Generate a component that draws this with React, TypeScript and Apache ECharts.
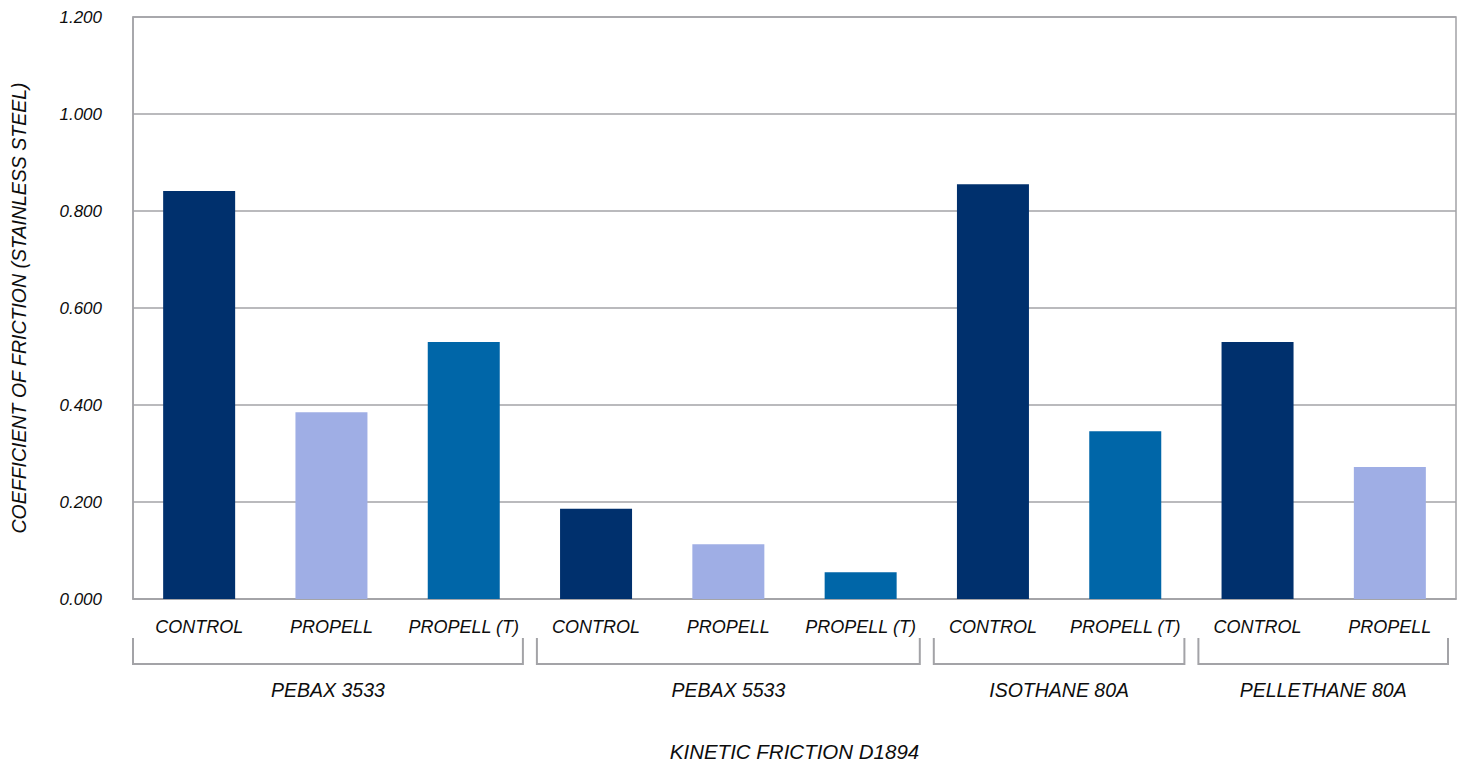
import React, { useEffect, useRef } from "react";
import * as echarts from "echarts";

const categories = [
  "CONTROL", "PROPELL", "PROPELL (T)",
  "CONTROL", "PROPELL", "PROPELL (T)",
  "CONTROL", "PROPELL (T)",
  "CONTROL", "PROPELL",
];
const values = [0.841, 0.385, 0.53, 0.186, 0.113, 0.055, 0.855, 0.346, 0.53, 0.272];
const groups = ["PEBAX 3533", "PEBAX 5533", "ISOTHANE 80A", "PELLETHANE 80A"];
const groupSizes = [3, 3, 2, 2];
const yMin = 0;
const yMax = 1.2;
const yStep = 0.2;
const xTitle = "KINETIC FRICTION D1894";
const yTitle = "COEFFICIENT OF FRICTION (STAINLESS STEEL)";

const typeColors: Record<string, string> = {
  "CONTROL": "#00306d",
  "PROPELL": "#9faee5",
  "PROPELL (T)": "#0066a8",
};

const FONT = "'Liberation Sans Narrow', 'Liberation Sans', Arial, sans-serif";
const GRAY = "#a3a3a7";
const TEXT = "#0d0d0d";

export default function App() {
  const ref = useRef<HTMLDivElement>(null);
  useEffect(() => {
    if (!ref.current) return;
    const chart = echarts.init(ref.current, null, { renderer: "svg" });
    chart.setOption({
      animation: false,
      backgroundColor: "#ffffff",
      grid: {
        left: 133,
        right: 7,
        top: 17,
        bottom: 163,
        show: true,
        borderColor: GRAY,
        borderWidth: 1.5,
        containLabel: false,
        outerBoundsMode: "none",
      },
      xAxis: {
        type: "category",
        data: categories,
        axisLine: { show: true, lineStyle: { color: GRAY, width: 1.5 } },
        axisTick: { show: false },
        axisLabel: {
          interval: 0,
          margin: 19,
          color: TEXT,
          fontFamily: FONT,
          fontStyle: "italic",
          fontSize: 18,
        },
        name: xTitle,
        nameLocation: "middle",
        nameGap: 142,
        nameTextStyle: {
          color: TEXT,
          fontFamily: FONT,
          fontStyle: "italic",
          fontSize: 20.5,
        },
      },
      yAxis: {
        type: "value",
        min: yMin,
        max: yMax,
        interval: yStep,
        axisLine: { show: true, lineStyle: { color: GRAY, width: 1.5 } },
        axisTick: { show: false },
        splitLine: { show: true, lineStyle: { color: GRAY, width: 1.5 } },
        axisLabel: {
          margin: 31,
          color: TEXT,
          fontFamily: FONT,
          fontStyle: "italic",
          fontSize: 17,
          formatter: (v: number) => v.toFixed(3),
        },
        name: yTitle,
        nameLocation: "middle",
        nameGap: 104,
        nameTextStyle: {
          color: TEXT,
          fontFamily: FONT,
          fontStyle: "italic",
          fontSize: 19.5,
        },
      },
      series: [
        {
          type: "bar",
          barWidth: 72,
          data: values.map((v, i) => ({
            value: v,
            itemStyle: { color: typeColors[categories[i]] },
          })),
        },
      ],
    });

    // group brackets and group labels, positioned from the category axis
    const c0 = chart.convertToPixel({ xAxisIndex: 0 }, 0) as number;
    const c1 = chart.convertToPixel({ xAxisIndex: 0 }, 1) as number;
    const band = c1 - c0;
    const graphics: any[] = [];
    let start = 0;
    groupSizes.forEach((size, gi) => {
      const left = c0 - band / 2 + start * band + (gi === 0 ? 0 : 7);
      const right =
        c0 - band / 2 + (start + size) * band - (gi === groupSizes.length - 1 ? 8 : 7);
      graphics.push({
        type: "polyline",
        shape: {
          points: [
            [left, 638],
            [left, 664],
            [right, 664],
            [right, 638],
          ],
        },
        style: { stroke: GRAY, lineWidth: 2, fill: null },
      });
      graphics.push({
        type: "text",
        x: (left + right) / 2,
        y: 690,
        style: {
          text: groups[gi],
          fill: TEXT,
          font: `italic 19.5px ${FONT}`,
          align: "center",
          verticalAlign: "middle",
        },
      });
      start += size;
    });
    chart.setOption({ graphic: graphics });

    return () => chart.dispose();
  }, []);
  return (
    <div
      ref={ref}
      style={{ position: "fixed", left: 0, top: 0, width: 1463, height: 762 }}
    />
  );
}
